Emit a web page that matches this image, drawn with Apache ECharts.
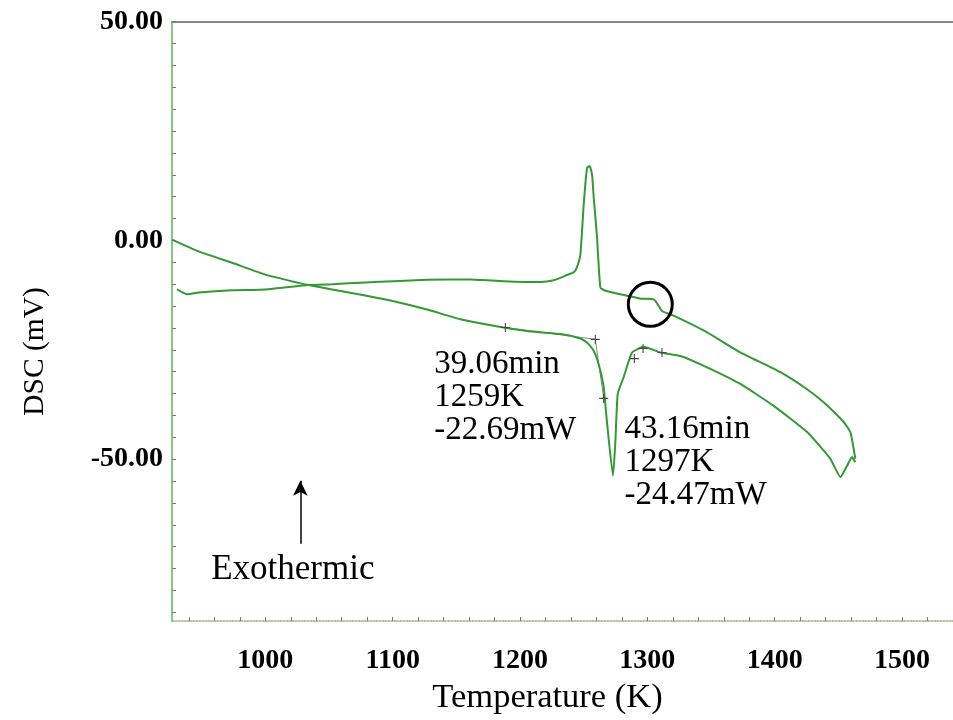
<!DOCTYPE html>
<html><head><meta charset="utf-8">
<script src="https://cdn.jsdelivr.net/npm/echarts@6/dist/echarts.min.js"></script>
<style>html,body{margin:0;padding:0;background:#fff}#c{width:953px;height:720px}</style>
</head><body><div id="c"></div>
<script>
// Heating run (lower curve, endothermic dip)
const heatT = [926.7, 947.6, 973.8, 1000.0, 1026.2, 1034.0, 1052.4, 1078.5, 1100.8, 1127.0, 1153.1, 1179.3, 1205.5, 1231.7, 1247.4, 1252.6, 1257.8, 1261.7, 1265.7, 1268.2, 1273.0, 1274.9, 1276.7, 1281.4, 1288.0, 1297.1, 1310.2, 1325.9, 1346.9, 1373.0, 1399.2, 1425.4, 1443.7, 1451.6, 1456.8, 1460.7, 1463.3];
const heatV = [0.2, -2.5, -5.1, -7.8, -9.7, -10.2, -11.2, -12.6, -13.9, -15.8, -18.0, -19.5, -20.7, -21.4, -22.4, -23.3, -25.2, -28.3, -33.5, -41.3, -53.8, -45.8, -35.1, -31.2, -25.6, -24.3, -25.6, -26.4, -29.0, -32.8, -37.8, -43.8, -49.9, -54.1, -51.5, -49.5, -50.7];
// Cooling run (upper curve, exothermic peak)
const coolT = [1463.3, 1462.0, 1459.4, 1454.1, 1438.4, 1425.4, 1404.4, 1373.0, 1346.9, 1320.6, 1311.5, 1306.3, 1303.7, 1294.5, 1285.3, 1267.0, 1263.1, 1260.5, 1257.9, 1256.6, 1254.7, 1252.6, 1250.0, 1247.4, 1244.6, 1242.1, 1236.9, 1226.4, 1216.0, 1187.1, 1161.0, 1127.0, 1100.8, 1078.5, 1052.4, 1034.0, 1000.0, 973.8, 947.6, 938.5, 930.7];
const coolV = [-49.9, -47.6, -43.8, -41.5, -37.0, -34.0, -30.1, -25.6, -21.0, -17.2, -16.1, -13.8, -13.4, -13.3, -12.7, -11.5, -10.8, 0.6, 9.7, 15.0, 17.0, 16.6, 8.2, -3.2, -6.2, -7.3, -7.9, -9.1, -9.5, -9.3, -8.9, -9.0, -9.3, -9.6, -10.0, -10.2, -11.2, -11.4, -11.9, -12.3, -11.2];
// Analysis markers (+) on heating curve
const crossT = [1188.5, 1259.1, 1265.7, 1289.8, 1296.6, 1311.5];
const crossV = [-19.9, -22.6, -36.1, -27.0, -24.7, -25.6];
// Axis ticks
const xTickLabels = [1000, 1100, 1200, 1300, 1400, 1500];
const xMinorTicks = [];
for (let v = 940; v <= 1540; v += 20) xMinorTicks.push(v);
const yTickLabels = [50, 0, -50];
const yMinorTicks = [];
for (let v = -85; v <= 50; v += 5) yMinorTicks.push(v);
// Annotations
const note1 = ['39.06min', '1259K', '-22.69mW'];
const note1Pos = [1133, -24.6];
const note2 = ['43.16min', '1297K', '-24.47mW'];
const note2Pos = [1282.5, -39.4];
const exoText = 'Exothermic';
const exoPos = [1022, -75.3];
const arrowFrom = [1027.5, -69.3];
const arrowTo = [1027.5, -54.9];
const circlePos = [1302.3, -14.6];

const zip = (a, b) => a.map((v, i) => [v, b[i]]);
const serif = 'Liberation Serif';
const green = '#339933';

const chart = echarts.init(document.getElementById('c'));
const textSeries = (pos, lines, size) => ({
  type: 'scatter', data: [pos], symbolSize: 1, silent: true,
  itemStyle: {color: 'rgba(0,0,0,0)', opacity: 1},
  label: {show: true, position: [0, 0], align: 'left', verticalAlign: 'top', opacity: 1,
    formatter: lines.join('\n'), fontFamily: serif, fontSize: size, lineHeight: 33, color: '#000'},
  z: 5
});
const crosses = zip(crossT, crossV);
chart.setOption({
  animation: false,
  grid: {left: 172, right: 0, top: 21.7, bottom: 96.7, containLabel: false},
  xAxis: [{
    type: 'value', min: 926.7, max: 1540, position: 'bottom',
    axisLine: {show: true, onZero: false, lineStyle: {color: '#b5a27a', type: 'dotted', width: 1.5}},
    axisTick: {show: true, inside: true, length: 4, customValues: xMinorTicks, lineStyle: {color: '#777'}},
    axisLabel: {customValues: xTickLabels, formatter: v => String(v), fontFamily: serif, fontWeight: 'bold', fontSize: 28, color: '#000', margin: 26},
    splitLine: {show: false},
    name: 'Temperature (K)', nameLocation: 'middle', nameGap: 48,
    nameTextStyle: {fontFamily: serif, fontSize: 34.5, color: '#000', padding: [0, 30, 0, 0]}
  }, {
    type: 'value', min: 926.7, max: 1540, position: 'top',
    axisLine: {show: true, onZero: false, lineStyle: {color: '#888', width: 2}},
    axisTick: {show: false}, axisLabel: {show: false}, splitLine: {show: false}
  }],
  yAxis: [{
    type: 'value', min: -87, max: 50,
    axisLine: {show: true, onZero: false, lineStyle: {color: '#80cc80', width: 2}},
    axisTick: {show: true, inside: true, length: 4, customValues: yMinorTicks, lineStyle: {color: '#777'}},
    axisLabel: {customValues: yTickLabels, formatter: v => v.toFixed(2), fontFamily: serif, fontWeight: 'bold', fontSize: 28, color: '#000', margin: 9},
    splitLine: {show: false},
    name: 'DSC (mV)', nameLocation: 'middle', nameRotate: 90, nameGap: 122,
    nameTextStyle: {fontFamily: serif, fontSize: 29.5, color: '#000', padding: [0, 60, 0, 0]}
  }],
  series: [
    {type: 'line', name: 'Heating', data: zip(heatT, heatV), showSymbol: false, symbol: 'none',
     smooth: 0.15,
     lineStyle: {color: green, width: 2}, z: 3,
     markLine: {silent: true, symbol: ['none', 'arrow'], symbolSize: [11, 15],
       lineStyle: {color: '#000', width: 1.5, type: 'solid'}, label: {show: false},
       data: [[{coord: arrowFrom}, {coord: arrowTo}]]}},
    {type: 'line', name: 'Cooling', data: zip(coolT, coolV), showSymbol: false, symbol: 'none',
     smooth: 0.15,
     lineStyle: {color: green, width: 2}, z: 3},
    {type: 'line', data: crosses.slice(0, 3), symbol: 'none', lineStyle: {color: '#888', width: 1}, z: 2},
    {type: 'scatter', data: crosses, symbol: 'path://M4.4,0h1.2v10h-1.2zM0,4.4h10v1.2h-10z', symbolSize: 9,
     itemStyle: {color: '#444', opacity: 1}, z: 4},
    {type: 'scatter', data: [circlePos], symbol: 'circle', symbolSize: 44,
     itemStyle: {color: 'rgba(0,0,0,0)', borderColor: '#000', borderWidth: 3, opacity: 1}, z: 4},
    textSeries(note1Pos, note1, 33),
    textSeries(note2Pos, note2, 33),
    {type: 'scatter', data: [exoPos], symbolSize: 1, silent: true, itemStyle: {color: 'rgba(0,0,0,0)', opacity: 1},
     label: {show: true, position: [0, 0], align: 'center', verticalAlign: 'middle', formatter: exoText, opacity: 1,
       fontFamily: serif, fontSize: 35, color: '#000'}}
  ]
});
</script></body></html>
